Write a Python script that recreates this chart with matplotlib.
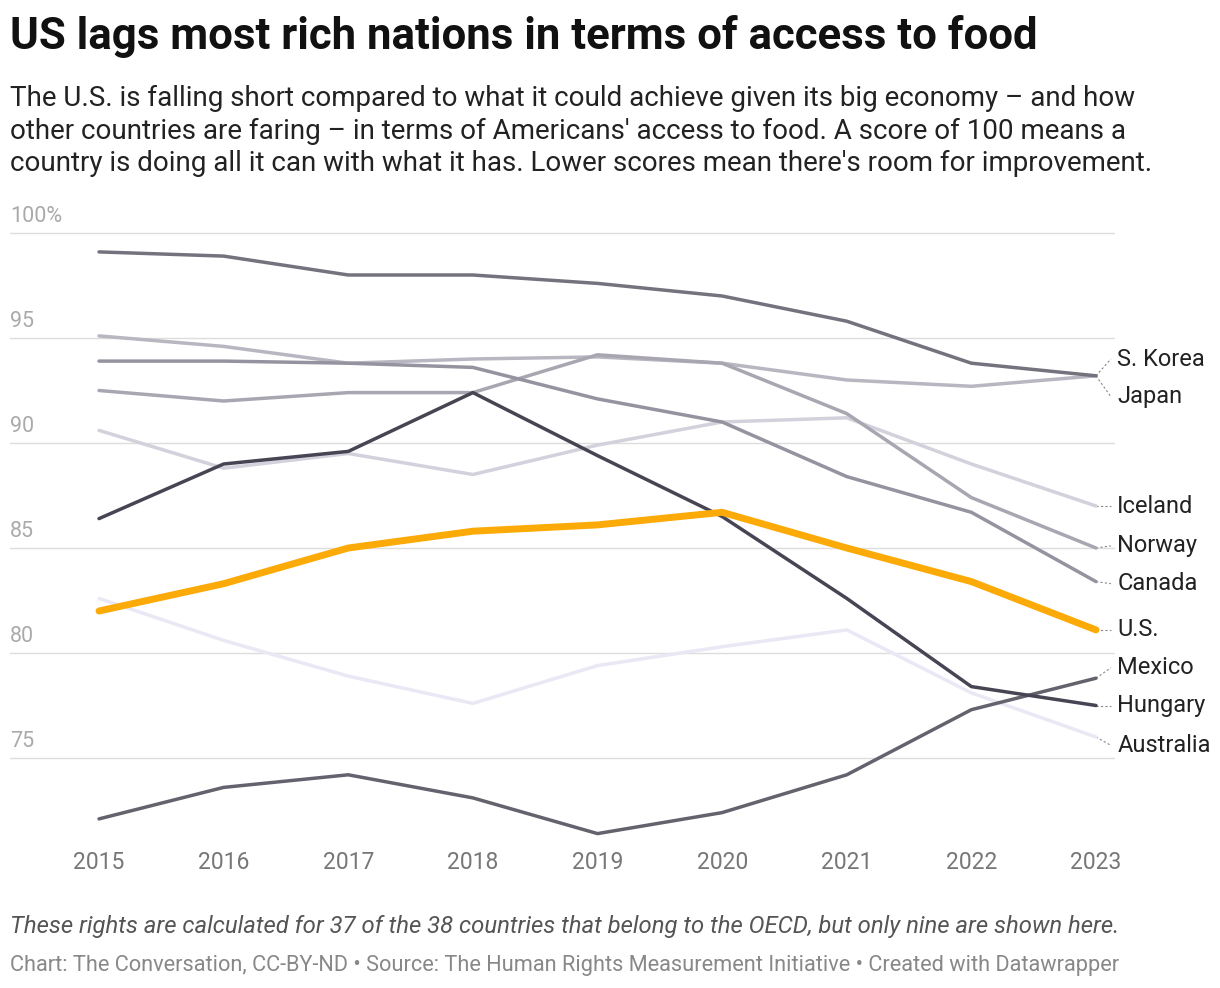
import matplotlib
matplotlib.use("Agg")
import matplotlib.pyplot as plt

years = [2015, 2016, 2017, 2018, 2019, 2020, 2021, 2022, 2023]
japan = [99.1, 98.9, 98.0, 98.0, 97.6, 97.0, 95.8, 93.8, 93.2]
s_korea = [95.1, 94.6, 93.8, 94.0, 94.1, 93.8, 93.0, 92.7, 93.2]
canada = [93.9, 93.9, 93.8, 93.6, 92.1, 91.0, 88.4, 86.7, 83.4]
norway = [92.5, 92.0, 92.4, 92.4, 94.2, 93.8, 91.4, 87.4, 85.0]
iceland = [90.6, 88.8, 89.5, 88.5, 89.9, 91.0, 91.2, 89.0, 87.0]
hungary = [86.4, 89.0, 89.6, 92.4, 89.4, 86.5, 82.6, 78.4, 77.5]
us = [82.0, 83.3, 85.0, 85.8, 86.1, 86.7, 85.0, 83.4, 81.1]
australia = [82.6, 80.6, 78.9, 77.6, 79.4, 80.3, 81.1, 78.1, 76.0]
mexico = [72.1, 73.6, 74.2, 73.1, 71.4, 72.4, 74.2, 77.3, 78.8]

series = [
    ("Australia", australia, "#e9e8f5", 2.5, 75.6),
    ("Iceland", iceland, "#d3d1dc", 2.5, 87.0),
    ("S. Korea", s_korea, "#b8b6c1", 2.5, 94.0),
    ("Norway", norway, "#a9a6b2", 2.5, 85.1),
    ("Canada", canada, "#9693a0", 2.5, 83.3),
    ("Japan", japan, "#75727e", 2.5, 92.2),
    ("Mexico", mexico, "#65626e", 2.5, 79.3),
    ("Hungary", hungary, "#474553", 2.5, 77.5),
    ("U.S.", us, "#fbaa08", 5, 81.1),
]

plt.rcParams['font.family'] = ['Roboto', 'DejaVu Sans']
fig = plt.figure(figsize=(12.2, 9.88), dpi=100)
ax = fig.add_axes([10 / 1220, 1 - 840 / 988, 1105 / 1220, (840 - 229) / 988])
ax.set_xlim(2015 - 89 / 124.6, 2023 + 19 / 124.6)
ax.set_ylim(100 - (840 - 233) / 21, 100 + 4 / 21)

for y in [75, 80, 85, 90, 95, 100]:
    ax.axhline(y, color="#dddddd", lw=1, zorder=0)
    lab = "100%" if y == 100 else str(y)
    ax.text(2015 - 89 / 124.6, y + 0.3, lab, fontsize=15.5, color="#aaaaaa", va="bottom", ha="left")

for name, vals, col, lw, ly in series:
    ax.plot(years, vals, color=col, lw=lw, zorder=3 if name == "U.S." else 2, solid_capstyle="round")
    ax.plot([2023, 2023.12], [vals[-1], ly], color="#888888", lw=0.8, ls=(0, (2, 2)), zorder=1)
    ax.text(2023.17, ly, name, fontsize=17, color="#222222", va="center", ha="left", clip_on=False)

for s in ax.spines.values():
    s.set_visible(False)
ax.set_yticks([])
ax.set_xticks(years)
ax.set_xticklabels([str(y) for y in years], fontsize=16.5, color="#777777")
ax.tick_params(axis="x", length=0, pad=8)

fig.text(10 / 1220, 1 - 36 / 988, "US lags most rich nations in terms of access to food",
         fontsize=31.5, fontweight="bold", color="#111111", va="center")
fig.text(10 / 1220, 1 - 131 / 988,
         "The U.S. is falling short compared to what it could achieve given its big economy \u2013 and how\n"
         "other countries are faring \u2013 in terms of Americans' access to food. A score of 100 means a\n"
         "country is doing all it can with what it has. Lower scores mean there's room for improvement.",
         fontsize=20, color="#222222", va="center", linespacing=1.27)
fig.text(10 / 1220, 1 - 927 / 988,
         "These rights are calculated for 37 of the 38 countries that belong to the OECD, but only nine are shown here.",
         fontsize=17.2, style="italic", color="#555555", va="center")
fig.text(10 / 1220, 1 - 965 / 988,
         "Chart: The Conversation, CC-BY-ND \u2022 Source: The Human Rights Measurement Initiative \u2022 Created with Datawrapper",
         fontsize=15.7, color="#888888", va="center")

fig.savefig("out.png", dpi=100)
